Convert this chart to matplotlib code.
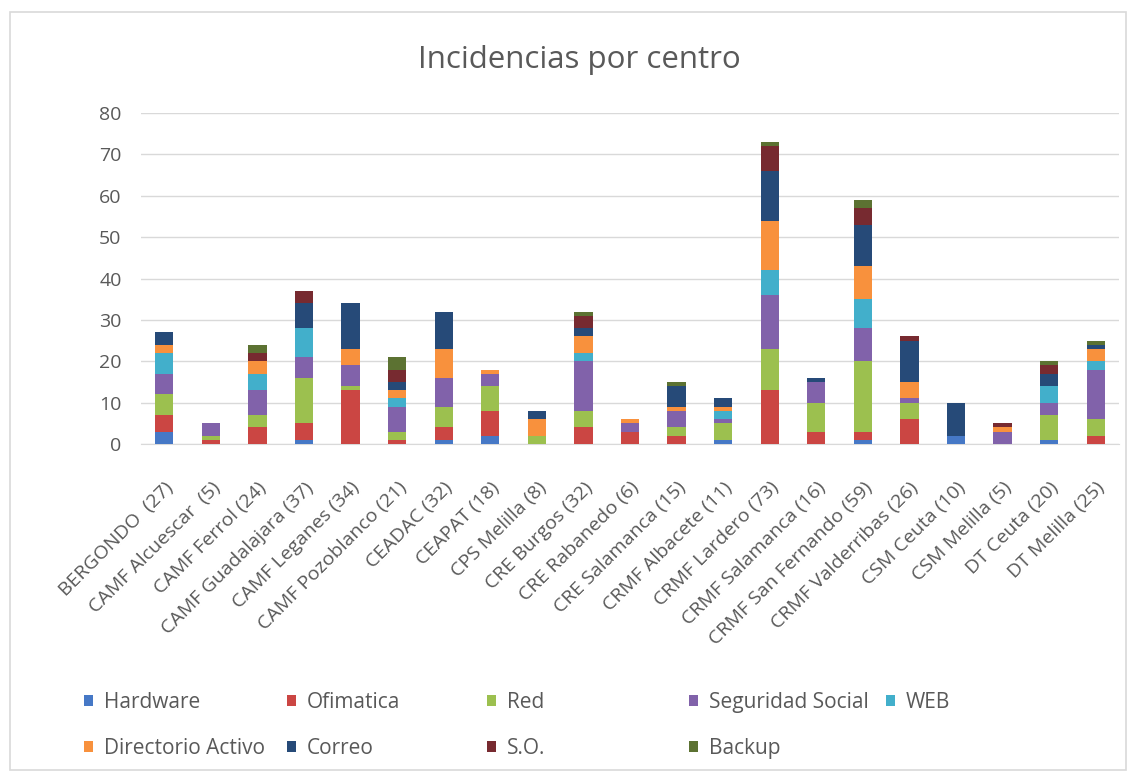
import numpy as np
import matplotlib.pyplot as plt
from matplotlib.patches import Rectangle


# Incidencias por centro - stacked bars per tipo de incidencia

centros = ['BERGONDO  (27)', 'CAMF Alcuescar  (5)', 'CAMF Ferrol (24)', 'CAMF Guadalajara (37)',
           'CAMF Leganes (34)', 'CAMF Pozoblanco (21)', 'CEADAC (32)', 'CEAPAT (18)',
           'CPS Melilla (8)', 'CRE Burgos (32)', 'CRE Rabanedo (6)', 'CRE Salamanca (15)',
           'CRMF Albacete (11)', 'CRMF Lardero (73)', 'CRMF Salamanca (16)',
           'CRMF San Fernando (59)', 'CRMF Valderribas (26)', 'CSM Ceuta (10)',
           'CSM Melilla (5)', 'DT Ceuta (20)', 'DT Melilla (25)']

hardware = [3, 0, 0, 1, 0, 0, 1, 2, 0, 0, 0, 0, 1, 0, 0, 1, 0, 2, 0, 1, 0]
ofimatica = [4, 1, 4, 4, 13, 1, 3, 6, 0, 4, 3, 2, 0, 13, 3, 2, 6, 0, 0, 0, 2]
red = [5, 1, 3, 11, 1, 2, 5, 6, 2, 4, 0, 2, 4, 10, 7, 17, 4, 0, 0, 6, 4]
seg_social = [5, 3, 6, 5, 5, 6, 7, 3, 0, 12, 2, 4, 1, 13, 5, 8, 1, 0, 3, 3, 12]
web = [5, 0, 4, 7, 0, 2, 0, 0, 0, 2, 0, 0, 2, 6, 0, 7, 0, 0, 0, 4, 2]
dir_activo = [2, 0, 3, 0, 4, 2, 7, 1, 4, 4, 1, 1, 1, 12, 0, 8, 4, 0, 1, 0, 3]
correo = [3, 0, 0, 6, 11, 2, 9, 0, 2, 2, 0, 5, 2, 12, 1, 10, 10, 8, 0, 3, 1]
so = [0, 0, 2, 3, 0, 3, 0, 0, 0, 3, 0, 0, 0, 6, 0, 4, 1, 0, 1, 2, 0]
backup = [0, 0, 2, 0, 0, 3, 0, 0, 0, 1, 0, 1, 0, 1, 0, 2, 0, 0, 0, 1, 1]

series = [hardware, ofimatica, red, seg_social, web, dir_activo, correo, so, backup]
nombres = ['Hardware', 'Ofimatica', 'Red', 'Seguridad Social', 'WEB',
           'Directorio Activo', 'Correo', 'S.O.', 'Backup']
colores = ['#4678C6', '#CB4643', '#9CC04F', '#8162AA', '#42AFCB',
           '#F8913D', '#264A78', '#772A30', '#5C7232']

W, H = 1136, 776
TXT = '#595959'
plt.rcParams['font.family'] = ['Open Sans', 'DejaVu Sans']

fig = plt.figure(figsize=(W / 100, H / 100), dpi=100)
fig.patch.set_facecolor('white')
# light frame around the chart
fig.add_artist(Rectangle((10 / W, 6 / H), 1116 / W, 758 / H, transform=fig.transFigure,
                         fill=False, edgecolor='#D9D9D9', linewidth=1.2))

ax = fig.add_axes([141 / W, 1 - 444 / H, 978 / W, 331 / H])

x = np.arange(len(centros))
bottom = np.zeros(len(centros))
handles = []
for vals, nombre, col in zip(series, nombres, colores):
    b = ax.bar(x, vals, width=0.39, bottom=bottom, color=col, label=nombre, zorder=3)
    handles.append(b)
    bottom += np.array(vals)

ax.set_xlim(-0.5, len(centros) - 0.5)
ax.set_ylim(0, 80)
ax.set_yticks(range(0, 81, 10))
ax.grid(axis='y', color='#D9D9D9', linewidth=1.0, zorder=0)
for s in ['top', 'right', 'left']:
    ax.spines[s].set_visible(False)
ax.spines['bottom'].set_color('#D9D9D9')
ax.tick_params(axis='both', length=0, colors=TXT, labelsize=14)
ax.tick_params(axis='y', pad=14)
ax.set_xticks(x)
ax.set_xticklabels(centros, rotation=45, ha='right', va='top', rotation_mode='anchor',
                   fontsize=14, color=TXT)
ax.tick_params(axis='x', pad=25)

fig.text(579 / W, 1 - 60 / H, 'Incidencias por centro', ha='center', va='center',
         fontsize=22.5, color=TXT)

# legend: 5 fixed-position columns, 2 rows (Excel style)
col_x = [84, 287, 487, 689, 886]
for c, cx in enumerate(col_x):
    idx = [i for i in (c, c + 5) if i < len(series)]
    leg = fig.legend([handles[i] for i in idx], [nombres[i] for i in idx],
                     loc='upper left', bbox_to_anchor=(cx / W, 1 - 692 / H),
                     frameon=False, fontsize=15, handlelength=0.45, handleheight=0.45,
                     handletextpad=0.5, labelspacing=1.2, borderpad=0, borderaxespad=0)
    for t in leg.get_texts():
        t.set_color(TXT)

plt.savefig('out.png', dpi=100, facecolor='white')
